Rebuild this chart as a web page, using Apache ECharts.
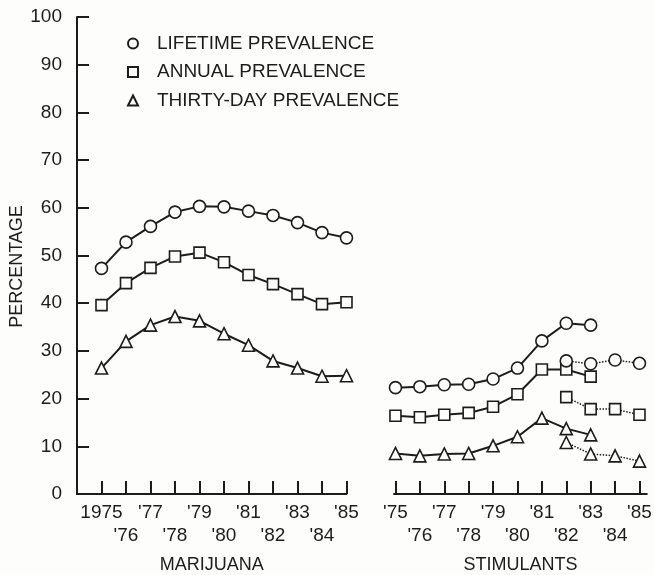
<!DOCTYPE html>
<html>
<head>
<meta charset="utf-8">
<script src="https://cdn.jsdelivr.net/npm/echarts@6/dist/echarts.min.js"></script>
<style>
  html, body { margin: 0; padding: 0; background: #fdfdfb; }
  #chart { width: 654px; height: 575px; }
</style>
</head>
<body>
<div id="chart"></div>
<script>
// 年份与刻度标签
const years = [1975, 1976, 1977, 1978, 1979, 1980, 1981, 1982, 1983, 1984, 1985]
const marijuanaTickLabels = ['1975', "'76", "'77", "'78", "'79", "'80", "'81", "'82", "'83", "'84", "'85"]
const stimulantTickLabels = ["'75", "'76", "'77", "'78", "'79", "'80", "'81", "'82", "'83", "'84", "'85"]

// 大麻
const marijuanaLifetime = [47.3, 52.8, 56.1, 59.1, 60.3, 60.2, 59.3, 58.4, 56.9, 54.8, 53.7]
const marijuanaAnnual = [39.6, 44.2, 47.4, 49.8, 50.6, 48.6, 45.9, 44.0, 41.9, 39.8, 40.2]
const marijuanaThirtyDay = [26.4, 32.0, 35.4, 37.2, 36.3, 33.6, 31.2, 27.9, 26.4, 24.7, 24.8]

// 兴奋剂（原始问法 1975-1983）
const stimYears = [1975, 1976, 1977, 1978, 1979, 1980, 1981, 1982, 1983]
const stimLifetime = [22.3, 22.5, 22.9, 23.0, 24.1, 26.4, 32.1, 35.8, 35.4]
const stimAnnual = [16.4, 16.1, 16.6, 17.0, 18.3, 20.9, 26.1, 26.1, 24.6]
const stimThirtyDay = [8.5, 8.0, 8.4, 8.5, 10.1, 12.0, 15.9, 13.7, 12.4]

// 兴奋剂（修订问法 1982-1985，虚线）
const stimRevYears = [1982, 1983, 1984, 1985]
const stimLifetimeRev = [27.9, 27.3, 28.1, 27.4]
const stimAnnualRev = [20.3, 17.8, 17.8, 16.6]
const stimThirtyDayRev = [10.8, 8.4, 8.0, 6.9]

const legendNames = ['LIFETIME PREVALENCE', 'ANNUAL PREVALENCE', 'THIRTY-DAY PREVALENCE']

const ink = '#1c1c1c'
const font = 'Liberation Sans, Arial, sans-serif'

const pairs = (xs, ys) => xs.map((x, i) => [x, ys[i]])
const oddYears = years.filter((y, i) => i % 2 === 0)
const evenYears = years.filter((y, i) => i % 2 === 1)

const markerStyle = { color: '#fdfdfb', borderColor: ink, borderWidth: 1.6 }

const makeSeries = (name, xs, ys, gridIdx, symbol, size, dotted) => ({
  name: name,
  type: 'line',
  xAxisIndex: gridIdx * 2,
  yAxisIndex: gridIdx,
  data: pairs(xs, ys),
  symbol: symbol,
  symbolSize: size,
  showAllSymbol: true,
  itemStyle: markerStyle,
  lineStyle: { color: ink, width: dotted ? 1.5 : 2, type: dotted ? 'dotted' : 'solid' },
  emphasis: { disabled: true },
  animation: false,
  z: 3
})

const labelText = labels => v => {
  const i = years.indexOf(Math.round(v))
  return i < 0 ? '' : labels[i]
}

// 主轴：轴线、刻度、上排标签
const xAxisMain = (gridIndex, min, max, labels, name) => ({
  type: 'value',
  gridIndex: gridIndex,
  position: 'bottom',
  min: min,
  max: max,
  splitLine: { show: false },
  axisLine: { show: true, lineStyle: { color: ink, width: 2 } },
  axisTick: { show: true, inside: true, length: 13, customValues: years, lineStyle: { color: ink, width: 2 } },
  axisLabel: {
    customValues: oddYears,
    showMinLabel: true,
    showMaxLabel: true,
    margin: 9,
    color: ink,
    fontFamily: font,
    fontSize: 19,
    formatter: labelText(labels)
  },
  name: name,
  nameLocation: 'middle',
  nameGap: 62,
  nameTextStyle: { color: ink, fontFamily: font, fontSize: 18 }
})

// 副轴：只显示下排标签
const xAxisLower = (gridIndex, min, max, labels) => ({
  type: 'value',
  gridIndex: gridIndex,
  position: 'bottom',
  offset: 0,
  min: min,
  max: max,
  splitLine: { show: false },
  axisLine: { show: false },
  axisTick: { show: false },
  axisLabel: {
    customValues: evenYears,
    showMinLabel: true,
    showMaxLabel: true,
    margin: 32,
    color: ink,
    fontFamily: font,
    fontSize: 19,
    formatter: labelText(labels)
  }
})

const chart = echarts.init(document.getElementById('chart'))

chart.setOption({
  backgroundColor: '#fdfdfb',
  animation: false,
  grid: [
    { left: 77, top: 17, width: 269.5, height: 477, outerBoundsMode: 'none' },
    { left: 394, top: 17, width: 252.8, height: 477, outerBoundsMode: 'none' }
  ],
  legend: {
    orient: 'vertical',
    left: 122,
    top: 29,
    itemWidth: 10,
    itemHeight: 10,
    itemGap: 9.5,
    data: legendNames.map((n, i) => ({ name: n, icon: ['circle', 'rect', 'triangle'][i] })),
    textStyle: { color: ink, fontFamily: font, fontSize: 19, padding: [0, 0, 0, 14] },
    selectedMode: false
  },
  xAxis: [
    xAxisMain(0, 1974, 1985, marijuanaTickLabels, 'MARIJUANA'),
    xAxisLower(0, 1974, 1985, marijuanaTickLabels),
    xAxisMain(1, 1974.94, 1985.3, stimulantTickLabels, 'STIMULANTS'),
    xAxisLower(1, 1974.94, 1985.3, stimulantTickLabels)
  ],
  yAxis: [
    {
      type: 'value',
      gridIndex: 0,
      min: 0,
      max: 100,
      interval: 10,
      splitLine: { show: false },
      axisLine: { show: true, lineStyle: { color: ink, width: 2 } },
      axisTick: { show: true, inside: true, length: 12, lineStyle: { color: ink, width: 2 } },
      axisLabel: { color: ink, fontFamily: font, fontSize: 19, margin: 15 },
      name: 'PERCENTAGE',
      nameLocation: 'middle',
      nameGap: 48,
      nameRotate: 90,
      nameTextStyle: { color: ink, fontFamily: font, fontSize: 18, padding: [0, 22, 0, 0] }
    },
    {
      type: 'value',
      gridIndex: 1,
      min: 0,
      max: 100,
      show: false
    }
  ],
  series: [
    makeSeries(legendNames[0], years, marijuanaLifetime, 0, 'circle', 12, false),
    makeSeries(legendNames[1], years, marijuanaAnnual, 0, 'rect', 11, false),
    makeSeries(legendNames[2], years, marijuanaThirtyDay, 0, 'triangle', 12, false),
    makeSeries('stim-lifetime', stimYears, stimLifetime, 1, 'circle', 12, false),
    makeSeries('stim-annual', stimYears, stimAnnual, 1, 'rect', 11, false),
    makeSeries('stim-thirty', stimYears, stimThirtyDay, 1, 'triangle', 12, false),
    makeSeries('stim-lifetime-rev', stimRevYears, stimLifetimeRev, 1, 'circle', 12, true),
    makeSeries('stim-annual-rev', stimRevYears, stimAnnualRev, 1, 'rect', 11, true),
    makeSeries('stim-thirty-rev', stimRevYears, stimThirtyDayRev, 1, 'triangle', 12, true)
  ]
})
</script>
</body>
</html>
